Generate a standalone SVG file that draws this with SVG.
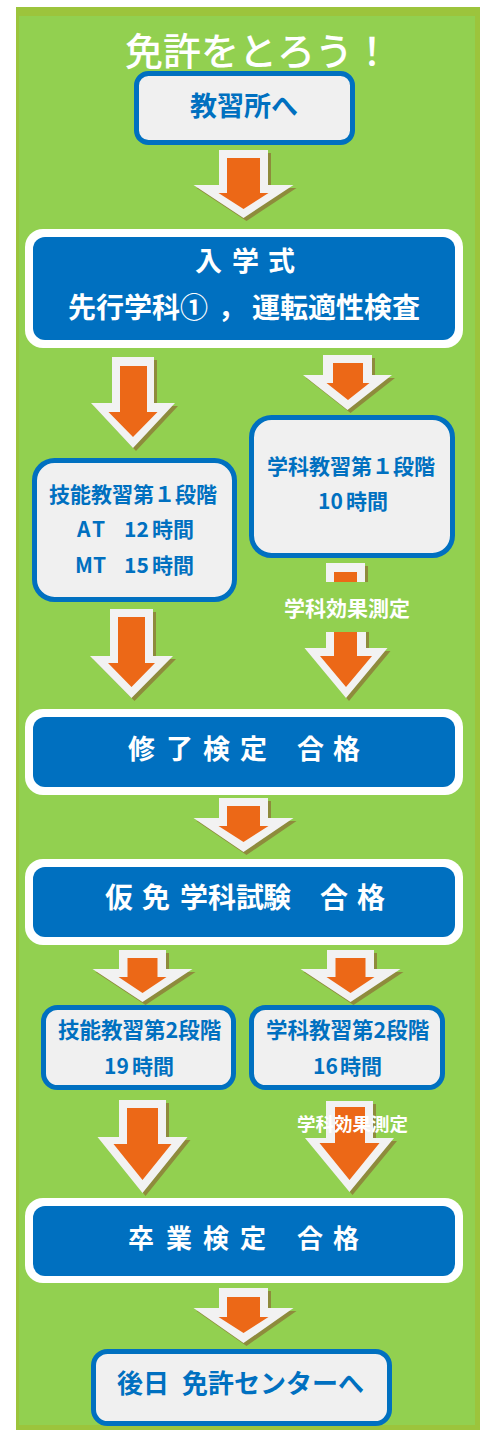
<svg xmlns="http://www.w3.org/2000/svg" width="488" height="1430" viewBox="0 0 488 1430">
<style>
text{font-family:"Noto Sans CJK JP","Noto Sans",sans-serif;font-weight:bold}
.title{fill:#fff;font-size:38px;font-weight:500}
.wt{fill:#fff}
.bt{fill:#0070c0}
.lbox{fill:#f0f0f0;stroke:#0070c0;stroke-width:5}
.bout{fill:#fff}
.bin{fill:#0070c0}
.aw{fill:#f2f2f2}
.ao{fill:#ec6817}
.as{fill:#8e8b3c}
</style>
<rect x="16" y="7" width="464" height="1423" fill="#9cc43c"/>
<rect x="19" y="16" width="456" height="1409" fill="#92d050"/>
<text class="title" x="125" y="65">免許をとろう！</text>

<g id="connectors">
  <!-- A1 -->
  <g transform="translate(3,3)"><polygon class="as" points="219,150 268,150 268,185 293.5,185 243.5,218 193.5,185 219,185"/></g>
  <polygon class="aw" points="219,150 268,150 268,185 293.5,185 243.5,218 193.5,185 219,185"/>
  <polygon class="ao" points="227,158 260,158 260,193 268.5,193 243.5,209 218.5,193 227,193"/>
  <!-- A2L -->
  <g transform="translate(3,3)"><polygon class="as" points="112,357 154,357 154,403 175,403 133,448 91,403 112,403"/></g>
  <polygon class="aw" points="112,357 154,357 154,403 175,403 133,448 91,403 112,403"/>
  <polygon class="ao" points="120,366 147,366 147,412 157.5,412 133,437 108.5,412 120,412"/>
  <!-- A2R -->
  <g transform="translate(3,3)"><polygon class="as" points="323,355 372,355 372,375 392,375 347.5,410 303,375 323,375"/></g>
  <polygon class="aw" points="323,355 372,355 372,375 392,375 347.5,410 303,375 323,375"/>
  <polygon class="ao" points="333,363 363,363 363,383 369.5,383 348,400 326.5,383 333,383"/>
  <!-- A3L -->
  <g transform="translate(3,3)"><polygon class="as" points="110,609 153,609 153,656 173,656 131.5,698 90,656 110,656"/></g>
  <polygon class="aw" points="110,609 153,609 153,656 173,656 131.5,698 90,656 110,656"/>
  <polygon class="ao" points="118,617 145,617 145,663 155,663 131.5,687 108,663 118,663"/>
  <!-- A3R stub + lower part -->
  <rect class="as" x="329" y="566" width="39" height="16"/>
  <rect class="aw" x="326" y="563" width="39" height="19"/>
  <rect class="ao" x="334" y="572" width="23" height="10"/>
  <g transform="translate(3,3)"><polygon class="as" points="326,629 366,629 366,648 387.5,648 346,698 304.5,648 326,648"/></g>
  <polygon class="aw" points="326,632 366,632 366,648 387.5,648 346,698 304.5,648 326,648"/>
  <polygon class="ao" points="334,632 357,632 357,656 372,656 346,687 320,656 334,656"/>
  <text class="wt" x="284" y="616" font-size="21">学科効果測定</text>
  <!-- A4 -->
  <g transform="translate(3,3)"><polygon class="as" points="219,798 268,798 268,818 293.5,818 243.5,852 193.5,818 219,818"/></g>
  <polygon class="aw" points="219,798 268,798 268,818 293.5,818 243.5,852 193.5,818 219,818"/>
  <polygon class="ao" points="227,806 260,806 260,826 268.5,826 243.5,842 218.5,826 227,826"/>
  <!-- A5L -->
  <g transform="translate(3,3)"><polygon class="as" points="119,950 166,950 166,969 192.5,969 142.5,1002 92.5,969 119,969"/></g>
  <polygon class="aw" points="119,950 166,950 166,969 192.5,969 142.5,1002 92.5,969 119,969"/>
  <polygon class="ao" points="127.5,958 157.5,958 157.5,977 166.5,977 142.5,993 118.5,977 127.5,977"/>
  <!-- A5R -->
  <g transform="translate(3,3)"><polygon class="as" points="327,950 374,950 374,969 400.5,969 350.5,1002 300.5,969 327,969"/></g>
  <polygon class="aw" points="327,950 374,950 374,969 400.5,969 350.5,1002 300.5,969 327,969"/>
  <polygon class="ao" points="335.5,958 365.5,958 365.5,977 374.5,977 350.5,993 326.5,977 335.5,977"/>
  <!-- A6L -->
  <g transform="translate(3,3)"><polygon class="as" points="119,1100 166,1100 166,1137 187.5,1137 142.5,1193 97.5,1137 119,1137"/></g>
  <polygon class="aw" points="119,1100 166,1100 166,1137 187.5,1137 142.5,1193 97.5,1137 119,1137"/>
  <polygon class="ao" points="127,1108 158,1108 158,1144 171.5,1144 142.5,1180 113.5,1144 127,1144"/>
  <!-- A6R -->
  <g transform="translate(3,3)"><polygon class="as" points="326,1101 373,1101 373,1138 394,1138 349.5,1192 305,1138 326,1138"/></g>
  <polygon class="aw" points="326,1101 373,1101 373,1138 394,1138 349.5,1192 305,1138 326,1138"/>
  <polygon class="ao" points="335,1107 365,1107 365,1143 379.5,1143 349.5,1180 319.5,1143 335,1143"/>
  <text class="wt" x="297" y="1131" font-size="18.5">学科効果測定</text>
  <!-- A7 -->
  <g transform="translate(3,3)"><polygon class="as" points="219,1288 268,1288 268,1308 293.5,1308 243.5,1343 193.5,1308 219,1308"/></g>
  <polygon class="aw" points="219,1288 268,1288 268,1308 293.5,1308 243.5,1343 193.5,1308 219,1308"/>
  <polygon class="ao" points="227,1297 260,1297 260,1317 268.5,1317 243.5,1333 218.5,1317 227,1317"/>
</g>

<g id="n-kyoshujo">
  <rect class="lbox" x="136.5" y="73.5" width="216" height="69" rx="12"/>
  <text class="bt" x="190" y="116" font-size="27">教習所へ</text>
</g>

<g id="n-nyugaku">
  <rect class="bout" x="25" y="229" width="438" height="119" rx="18"/>
  <rect class="bin" x="33" y="237" width="422" height="103" rx="12"/>
  <text class="wt" x="195 232 268" y="271" font-size="27">入学式</text>
  <text class="wt" y="318" font-size="28"><tspan x="68">先行学科①</tspan><tspan x="218">，</tspan><tspan x="252">運転適性検査</tspan></text>
</g>

<g id="n-gino1">
  <rect class="lbox" x="34.5" y="460.5" width="200" height="139" rx="20"/>
  <text class="bt" x="49" y="502" font-size="21">技能教習第１段階</text>
  <text class="bt" y="537" font-size="21"><tspan x="77 92">AT</tspan><tspan x="124">12</tspan><tspan x="152">時間</tspan></text>
  <text class="bt" y="573" font-size="21"><tspan x="75 93">MT</tspan><tspan x="124">15</tspan><tspan x="152">時間</tspan></text>
</g>

<g id="n-gakka1">
  <rect class="lbox" x="251.5" y="417.5" width="201" height="138" rx="20"/>
  <text class="bt" x="267" y="474" font-size="21">学科教習第１段階</text>
  <text class="bt" y="509" font-size="21"><tspan x="318">10</tspan><tspan x="346">時間</tspan></text>
</g>

<g id="n-shuryo">
  <rect class="bout" x="25" y="709" width="438" height="86" rx="18"/>
  <rect class="bin" x="33" y="717" width="422" height="70" rx="12"/>
  <text class="wt" x="128 166 203 240 297 333" y="759" font-size="27">修了検定合格</text>
</g>

<g id="n-karimen">
  <rect class="bout" x="25" y="859" width="438" height="86" rx="18"/>
  <rect class="bin" x="33" y="867" width="422" height="70" rx="12"/>
  <text class="wt" x="105 142 180 208 236 263 320 357" y="908" font-size="28">仮免学科試験合格</text>
</g>

<g id="n-gino2">
  <rect class="lbox" x="43.5" y="1007.5" width="190" height="80" rx="14"/>
  <text class="bt" x="58" y="1038" font-size="21.5">技能教習第2段階</text>
  <text class="bt" y="1074" font-size="21"><tspan x="104">19</tspan><tspan x="132">時間</tspan></text>
</g>

<g id="n-gakka2">
  <rect class="lbox" x="251.5" y="1007.5" width="191" height="80" rx="14"/>
  <text class="bt" x="266" y="1038" font-size="21.5">学科教習第2段階</text>
  <text class="bt" y="1074" font-size="21"><tspan x="313">16</tspan><tspan x="340">時間</tspan></text>
</g>

<g id="n-sotsugyo">
  <rect class="bout" x="25" y="1198" width="438" height="85" rx="18"/>
  <rect class="bin" x="33" y="1206" width="422" height="70" rx="12"/>
  <text class="wt" x="128 166 203 240 297 333" y="1248" font-size="26">卒業検定合格</text>
</g>

<g id="n-center">
  <rect class="lbox" x="93.5" y="1351.5" width="296" height="72" rx="14"/>
  <text class="bt" y="1393" font-size="26"><tspan x="117">後日</tspan><tspan x="182">免許センターへ</tspan></text>
</g>
</svg>
